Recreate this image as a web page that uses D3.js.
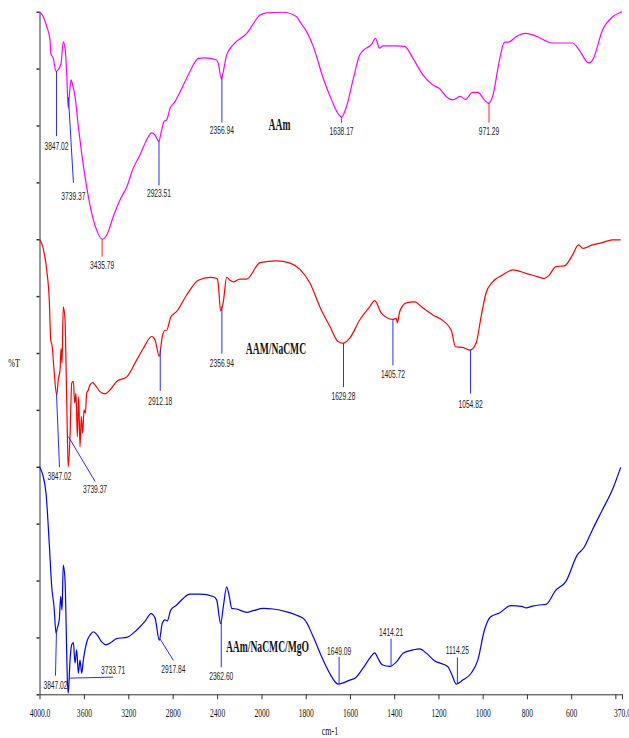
<!DOCTYPE html>
<html><head><meta charset="utf-8">
<script src="https://cdn.jsdelivr.net/npm/d3@7"></script>
<style>body{margin:0;background:#fff}svg{display:block}</style>
</head><body><svg id="c" width="629" height="738"></svg>
<script>
// ---------- data ----------
const seriesNames = ["AAm", "AAM/NaCMC", "AAm/NaCMC/MgO"];
const seriesColors = ["#ff00ff", "#ff0000", "#0000ff"];
const xTickValues = [4000,3600,3200,2800,2400,2000,1800,1600,1400,1200,1000,800,600,400,370];

const aamData = [[4000,120.0],[3966,119.1],[3935,117.4],[3905,115.0],[3899,112.7],[3876,111.8],[3851,109.5],[3831,109.8],[3806,110.9],[3786,114.7],[3770,113.6],[3755,109.2],[3741,103.0],[3732,105.1],[3716,108.0],[3701,107.1],[3680,105.1],[3650,99.8],[3620,95.1],[3575,89.2],[3530,84.6],[3485,81.6],[3434,80.0],[3395,80.7],[3335,84.0],[3275,86.9],[3214,89.2],[3155,92.5],[3095,94.8],[3034,97.5],[2989,98.7],[2959,98.3],[2926,97.2],[2899,99.2],[2878,100.7],[2854,101.0],[2824,103.0],[2779,104.2],[2719,106.5],[2644,109.5],[2569,111.8],[2509,111.9],[2404,111.5],[2389,110.9],[2362,108.2],[2338,110.1],[2314,112.4],[2254,114.2],[2133,116.2],[2013,119.4],[1977,119.8],[1902,119.9],[1841,119.1],[1826,118.2],[1796,116.5],[1766,113.9],[1721,108.3],[1683,104.5],[1654,102.1],[1638,101.5],[1616,103.3],[1586,108.0],[1556,112.4],[1526,113.6],[1503,114.2],[1485,115.3],[1466,113.6],[1451,114.0],[1390,114.0],[1353,113.9],[1315,111.8],[1270,108.9],[1225,107.1],[1195,106.5],[1165,105.1],[1135,104.5],[1102,105.1],[1078,104.6],[1045,105.8],[1022,105.8],[992,104.5],[973,103.9],[955,105.1],[924,111.5],[902,114.6],[879,114.7],[849,115.6],[804,116.2],[759,115.7],[684,114.5],[594,114.5],[564,113.3],[521,111.0],[503,111.5],[458,116.8],[413,119.1],[375,119.9],[370,120.0]];

const aamCmcData = [[4000,80.0],[3971,78.7],[3935,74.6],[3912,69.3],[3899,62.3],[3885,61.1],[3869,57.0],[3845,52.6],[3831,55.3],[3815,57.0],[3806,60.8],[3797,58.2],[3786,68.1],[3770,65.8],[3761,58.2],[3750,46.5],[3741,40.0],[3725,45.3],[3710,54.7],[3695,55.0],[3683,51.2],[3671,52.9],[3659,45.3],[3647,52.3],[3635,43.5],[3623,48.8],[3611,45.9],[3599,50.0],[3587,49.4],[3575,52.9],[3560,53.5],[3545,54.4],[3521,54.8],[3500,54.4],[3455,53.2],[3410,52.8],[3365,53.5],[3305,55.0],[3214,55.8],[3124,58.8],[3065,60.8],[2989,62.9],[2959,62.3],[2921,59.4],[2894,62.9],[2869,64.0],[2854,64.0],[2818,66.3],[2764,67.3],[2674,70.2],[2569,72.8],[2464,73.3],[2398,73.1],[2389,72.0],[2368,67.4],[2344,69.0],[2314,73.3],[2284,72.8],[2254,72.5],[2194,73.0],[2133,73.0],[2013,75.9],[1931,76.2],[1871,75.8],[1826,74.7],[1781,72.3],[1736,68.1],[1690,64.6],[1654,62.0],[1631,61.7],[1601,62.6],[1556,65.8],[1511,68.1],[1488,69.2],[1458,67.0],[1408,65.9],[1390,66.1],[1386,65.3],[1375,67.3],[1345,68.8],[1308,69.0],[1270,67.9],[1225,66.7],[1180,65.7],[1142,64.0],[1123,61.1],[1090,61.0],[1057,60.5],[1030,61.7],[1007,66.4],[985,70.5],[955,72.5],[910,73.7],[864,74.6],[804,74.0],[759,73.5],[722,73.1],[699,73.7],[669,75.2],[631,75.3],[594,77.2],[567,79.0],[546,78.4],[504,79.0],[459,79.4],[414,79.9],[376,79.9]];

const aamCmcMgoData = [[4000,40.0],[3971,38.6],[3941,35.3],[3912,26.5],[3890,18.9],[3869,15.4],[3851,10.7],[3840,11.6],[3822,13.1],[3809,17.2],[3797,14.8],[3786,22.7],[3770,20.1],[3761,13.1],[3750,3.1],[3741,0.2],[3725,6.0],[3710,8.7],[3695,9.1],[3680,5.5],[3665,7.8],[3650,3.7],[3635,6.0],[3620,3.7],[3605,6.0],[3587,8.1],[3569,9.5],[3545,10.4],[3515,11.0],[3479,10.4],[3440,9.2],[3401,8.7],[3350,9.2],[3305,9.8],[3214,10.0],[3124,11.3],[3050,12.8],[2995,14.2],[2959,13.4],[2921,9.5],[2894,12.5],[2869,13.1],[2849,12.9],[2818,14.8],[2764,15.7],[2704,16.9],[2644,17.6],[2554,17.6],[2434,17.2],[2404,16.6],[2368,12.4],[2344,15.4],[2314,18.9],[2290,17.2],[2268,15.1],[2223,15.0],[2133,14.4],[2074,14.7],[1992,15.1],[1947,15.0],[1886,14.5],[1841,13.9],[1804,13.1],[1766,10.1],[1728,6.6],[1692,3.7],[1654,1.8],[1631,2.0],[1601,2.5],[1578,2.8],[1541,4.6],[1511,6.3],[1488,7.3],[1473,6.3],[1454,5.2],[1420,4.9],[1390,5.7],[1360,7.2],[1315,7.8],[1285,8.0],[1254,7.2],[1218,5.9],[1158,4.9],[1142,3.7],[1119,1.8],[1090,2.5],[1052,3.7],[1022,6.0],[992,11.3],[965,13.6],[924,14.3],[872,15.6],[819,15.4],[804,15.2],[774,15.5],[744,15.7],[714,15.8],[669,18.3],[624,19.8],[572,24.5],[542,25.8],[504,28.9],[459,32.4],[414,35.9],[376,39.9]];

const aamPeaks = [3847.02, 3739.37, 3435.79, 2923.51, 2356.94, 1638.17, 971.29];
const aamCmcPeaks = [3847.02, 3739.37, 2912.18, 2356.94, 1629.28, 1405.72, 1054.82];
const aamCmcMgoPeaks = [3847.02, 3733.71, 2917.84, 2362.60, 1649.09, 1414.21, 1114.25];

// ---------- layout (leader offsets in px, label offsets) ----------
const BL = "#2b2bff", RD = "#ff2020";
const aamLeaders = [
  {dy0:0, dx:0, dy:65, ly:14, c:BL},
  {dy0:-9, dx:5, dy:76.5, ly:17, c:BL},
  {dy0:0, dx:0, dy:17.7, ly:12, c:RD},
  {dy0:0, dx:0, dy:45, ly:12, c:BL},
  {dy0:0, dx:0, dy:46, ly:11.5, c:BL},
  {dy0:0, dx:0, dy:6, ly:12, c:RD},
  {dy0:0, dx:0, dy:20, ly:12, c:RD}
];
const aamCmcLeaders = [
  {dy0:0, dx:3, dy:74, ly:13, c:BL},
  {dy0:-27, dx:26.6, dy:17.7, ly:12, c:BL},
  {dy0:0, dx:0, dy:41, ly:14, c:BL},
  {dy0:0, dx:0, dy:47, ly:13, c:BL},
  {dy0:0, dx:0, dy:44, ly:13, c:BL},
  {dy0:0, dx:0, dy:46, ly:13, c:BL},
  {dy0:0, dx:0, dy:44, ly:14, c:BL}
];
const aamCmcMgoLeaders = [
  {dy0:0, dx:-1, dy:44, ly:13, c:BL},
  {dy0:0, dx:44, dy:-1, ly:-3, c:BL},
  {dy0:0, dx:13.7, dy:22, ly:13, c:BL},
  {dy0:0, dx:0, dy:47.5, ly:13, c:BL},
  {dy0:0, dx:0, dy:-27, ly:-2, c:BL},
  {dy0:0, dx:0, dy:-27, ly:-3, c:BL},
  {dy0:0, dx:0, dy:-26, ly:-3, c:BL}
];
const nameLabelPos = [[279.5,130],[276,354],[267.5,652]];

// ---------- drawing ----------
const svg = d3.select("#c");
const x = d3.scaleLinear().domain([4000, 2000, 370]).range([39.5, 261.5, 622]);
const y = d3.scaleLinear().domain([0, 120]).range([694.3, 11.7]);

function squeeze(sel, k){
  sel.each(function(){
    const w = this.getComputedTextLength();
    if (w > 0) d3.select(this).attr("textLength", w*k).attr("lengthAdjust","spacingAndGlyphs");
  });
}
function interp(data, wn){
  for (let i=0;i<data.length-1;i++){
    const a=data[i], b=data[i+1];
    if (wn<=a[0] && wn>=b[0]){ const t=(a[0]-wn)/(a[0]-b[0]); return a[1]+t*(b[1]-a[1]); }
  }
  return data[data.length-1][1];
}

// axes
const xAxis = d3.axisBottom(x).tickValues(xTickValues).tickSize(5).tickSizeOuter(0).tickPadding(8)
  .tickFormat(d => d===4000 ? "4000.0" : d===370 ? "370.0" : d===400 ? "" : String(d));
const gx = svg.append("g").attr("transform","translate(0,694.3)").call(xAxis);
gx.select(".domain").attr("stroke","#333");
gx.selectAll(".tick line").attr("stroke","#333");
gx.selectAll("text").attr("font-family","'Liberation Serif','Times New Roman',serif").attr("font-size",13).attr("fill","#111");
squeeze(gx.selectAll("text"), 0.58);

const yAxis = d3.axisLeft(y).tickValues(d3.range(0,121,10)).tickSize(3).tickSizeOuter(0).tickFormat("");
const gy = svg.append("g").attr("transform","translate(39.5,0)").call(yAxis);
gy.select(".domain").attr("stroke","#333");
gy.selectAll(".tick line").attr("stroke","#333").attr("stroke-width",1.5);

// axis titles
const tT = svg.append("text").attr("x",14).attr("y",367).attr("text-anchor","middle")
  .attr("font-family","'Liberation Serif',serif").attr("font-size",13).attr("fill","#111").text("%T");
squeeze(tT, 0.62);
const tX = svg.append("text").attr("x",330).attr("y",735).attr("text-anchor","middle")
  .attr("font-family","'Liberation Serif',serif").attr("font-size",13).attr("fill","#111").text("cm-1");
squeeze(tX, 0.62);

// spectra
const line = d3.line().x(d => x(d[0])).y(d => y(d[1])).curve(d3.curveMonotoneX);
const allData = [aamData, aamCmcData, aamCmcMgoData];
const allPeaks = [aamPeaks, aamCmcPeaks, aamCmcMgoPeaks];
const allLeaders = [aamLeaders, aamCmcLeaders, aamCmcMgoLeaders];

allData.forEach((data, i) => {
  svg.append("path").datum(data).attr("d", line).attr("fill","none")
    .attr("stroke", seriesColors[i]).attr("stroke-width",1.2).attr("stroke-linejoin","round");
});

allData.forEach((data, i) => {
  const g = svg.append("g");
  allPeaks[i].forEach((wn, j) => {
    const L = allLeaders[i][j];
    const x0 = x(wn), y0 = y(interp(data, wn)) + L.dy0;
    const x1 = x0 + L.dx, y1 = y(interp(data, wn)) + L.dy;
    g.append("line").attr("x1",x0).attr("y1",y0).attr("x2",x1).attr("y2",y1)
      .attr("stroke", L.c).attr("stroke-width",1);
    const t = g.append("text").attr("x", x1).attr("y", y1 + L.ly).attr("text-anchor","middle")
      .attr("font-family","'Liberation Sans',Arial,sans-serif").attr("font-size",11.5).attr("fill","#222")
      .text(wn.toFixed(2));
    squeeze(t, 0.58);
  });
  const n = svg.append("text").attr("x", nameLabelPos[i][0]).attr("y", nameLabelPos[i][1])
    .attr("text-anchor","middle").attr("font-family","'Liberation Serif','Times New Roman',serif")
    .attr("font-weight","bold").attr("font-size",16).attr("fill","#111").text(seriesNames[i]);
  squeeze(n, 0.6);
});
</script>
</body></html>
